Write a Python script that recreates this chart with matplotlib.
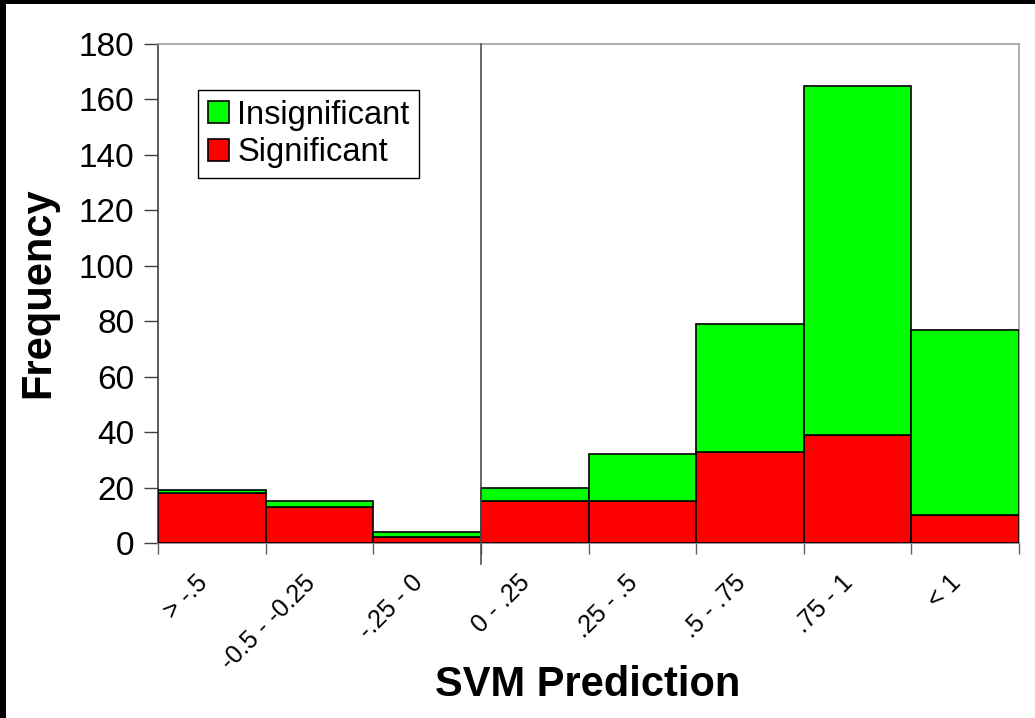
"""
Stacked histogram of SVM predictions, significant vs insignificant
"""
import numpy as np
import matplotlib
matplotlib.use("Agg")
from matplotlib import pyplot as plt
from matplotlib.patches import Rectangle
from matplotlib.transforms import ScaledTranslation

plt.rcParams['font.family'] = ['Liberation Sans', 'DejaVu Sans']

# Data
categories = ["> -.5", "-0.5 - -0.25", "-.25 - 0", "0 - .25",
              ".25 - .5", ".5 - .75", ".75 - 1", "< 1"]
significant = [18, 13, 2, 15, 15, 33, 39, 10]
totals = [19, 15, 4, 20, 32, 79, 165, 77]
insignificant = [t - s for t, s in zip(totals, significant)]
y_ticks = [0, 20, 40, 60, 80, 100, 120, 140, 160, 180]

GREEN = "#00ff00"
RED = "#ff0000"

fig = plt.figure(figsize=(10.35, 7.18), dpi=100)
fig.patch.set_facecolor("white")

# black strips along the top and left edges of the picture
fig.patches.append(Rectangle((0, 1 - 4 / 718), 1, 4 / 718, transform=fig.transFigure,
                             facecolor="black", edgecolor="none", zorder=10))
fig.patches.append(Rectangle((0, 0), 6 / 1035, 1, transform=fig.transFigure,
                             facecolor="black", edgecolor="none", zorder=10))

ax = fig.add_axes([158 / 1035, 1 - 543 / 718, 861 / 1035, 499 / 718])

x = np.arange(len(categories))
ax.bar(x, significant, width=1, align="edge", color=RED, edgecolor="black",
       linewidth=1.2, label="Significant", zorder=3)
ax.bar(x, insignificant, width=1, bottom=significant, align="edge", color=GREEN,
       edgecolor="black", linewidth=1.2, label="Insignificant", zorder=3)

ax.set_xlim(0, len(categories))
ax.set_ylim(0, 180)

# y axis
ax.set_yticks(y_ticks)
ax.tick_params(axis="y", which="major", length=10, width=1, color="#404040",
               labelsize=24, pad=7, direction="out")

# x axis: ticks at the bin edges, labels centred under each bar
ax.set_xticks(np.arange(len(categories) + 1))
ax.set_xticklabels([])
ax.set_xticks(x + 0.5, minor=True)
ax.set_xticklabels(categories, minor=True, rotation=45, ha="right", va="center",
                   rotation_mode="anchor", fontsize=18)
ax.tick_params(axis="x", which="major", length=8, width=1, color="#606060", direction="out")
ax.tick_params(axis="x", which="minor", length=0, pad=26)
shift = ScaledTranslation(-8 / 100, 0, fig.dpi_scale_trans)
for lbl in ax.get_xticklabels(minor=True):
    lbl.set_transform(lbl.get_transform() + shift)

# divider at zero
ax.axvline(3, ymin=-0.042, ymax=1, color="#505050", linewidth=1.2, clip_on=False, zorder=4)

ax.spines["left"].set_color("#404040")
ax.spines["bottom"].set_color("#808080")
ax.spines["top"].set_color("#a0a0a0")
ax.spines["right"].set_color("#a0a0a0")
for s in ax.spines.values():
    s.set_linewidth(1.2)

handles, labels = ax.get_legend_handles_labels()
leg = ax.legend(handles[::-1], labels[::-1], loc="upper left",
                bbox_to_anchor=(40 / 861, 1 - 46 / 499), fontsize=23.5,
                frameon=True, fancybox=False, edgecolor="black", framealpha=1,
                handlelength=0.65, handleheight=0.65, handletextpad=0.25,
                borderpad=0.3, labelspacing=0.2, borderaxespad=0)
leg.get_frame().set_linewidth(1.0)

fig.text(38 / 1035, 1 - 293 / 718, "Frequency", rotation=90, ha="center", va="center",
         fontsize=30, fontweight="bold")
fig.text(588 / 1035, 1 - 685 / 718, "SVM Prediction", ha="center", va="center",
         fontsize=30, fontweight="bold")

fig.savefig("out.png", dpi=100, facecolor="white")
